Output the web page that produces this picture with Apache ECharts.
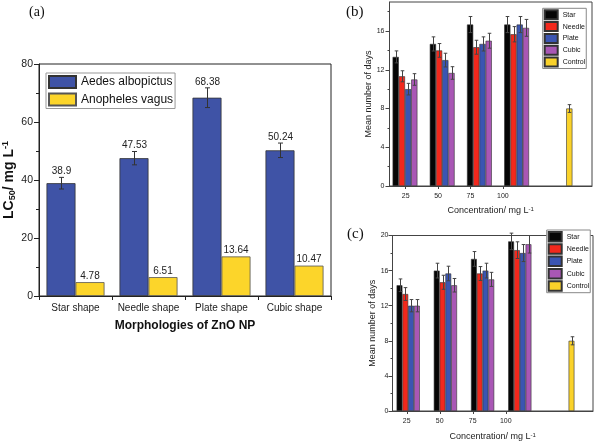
<!DOCTYPE html>
<html><head><meta charset="utf-8">
<script src="https://cdn.jsdelivr.net/npm/echarts@6/dist/echarts.min.js"></script>
<style>html,body{margin:0;padding:0;background:#fff}#c{width:600px;height:443px}</style>
</head><body><div id="c"></div>
<script>
// ---- Panel (a) data ----
const morphCats = ['Star shape', 'Needle shape', 'Plate shape', 'Cubic shape'];
const aedes = [38.9, 47.53, 68.38, 50.24];
const aedesErr = [2.0, 2.3, 3.4, 2.5];
const anopheles = [4.78, 6.51, 13.64, 10.47];

// ---- Panels (b) and (c) data ----
const concCats = ['25', '50', '75', '100', 'Control'];
const concTickValues = [25, 50, 75, 100];
const groupNames = ['Star', 'Needle', 'Plate', 'Cubic', 'Control'];
// (b)
const bStar = [13.33, 14.67, 16.67, 16.67];
const bNeedle = [11.33, 14.0, 14.33, 15.67];
const bPlate = [10.0, 13.0, 14.67, 16.67];
const bCubic = [11.0, 11.67, 15.0, 16.33];
const bControl = 8.0;
const bStarErr = [0.62, 0.73, 0.83, 0.83];
const bNeedleErr = [0.57, 0.71, 0.72, 0.79];
const bPlateErr = [0.6, 0.71, 0.73, 0.83];
const bCubicErr = [0.6, 0.65, 0.77, 0.87];
const bControlErr = 0.4;
const bYTicks = [0, 4, 8, 12, 16];
const bYMinorTicks = [2, 6, 10, 14, 18];
// (c)
const cStar = [14.33, 16.0, 17.33, 19.33];
const cNeedle = [13.33, 14.67, 15.67, 18.33];
const cPlate = [12.0, 15.67, 16.0, 18.0];
const cCubic = [12.0, 14.33, 15.0, 19.0];
const cControl = 8.0;
const cStarErr = [0.72, 0.84, 0.84, 0.94];
const cNeedleErr = [0.73, 0.8, 0.79, 0.95];
const cPlateErr = [0.7, 0.83, 0.84, 0.97];
const cCubicErr = [0.7, 0.77, 0.8, 1.0];
const cControlErr = 0.46;

const colors = {Star: '#050505', Needle: '#F2281C', Plate: '#3B55B2', Cubic: '#A957B5', Control: '#FAD22A'};
const blueA = '#3F53A6', yellowA = '#FCD52A';

const SANS = 'Liberation Sans, Arial, sans-serif';
const SERIF = 'Liberation Serif, Times New Roman, serif';

function errRender(bw, slotCount, capHalf, color, withLabel) {
  return function (params, api) {
    const cat = api.value(0), v = api.value(1), e = api.value(2), slot = api.value(3);
    const off = (slot - (slotCount - 1) / 2) * bw;
    const top = api.coord([cat, v + e]);
    const bot = api.coord([cat, v - e]);
    const x = Math.round(top[0] + off) + 0.5;
    const st = {stroke: color, lineWidth: 1};
    const ch = [
      {type: 'line', shape: {x1: x, y1: top[1], x2: x, y2: bot[1]}, style: st},
      {type: 'line', shape: {x1: x - capHalf, y1: top[1], x2: x + capHalf, y2: top[1]}, style: st},
      {type: 'line', shape: {x1: x - capHalf, y1: bot[1], x2: x + capHalf, y2: bot[1]}, style: st}
    ];
    if (withLabel) {
      ch.push({type: 'text', style: {text: String(v), x: x, y: top[1] - 1, align: 'center', verticalAlign: 'bottom',
        fill: '#222', font: '10px ' + SANS}});
    }
    return {type: 'group', children: ch};
  };
}

function barSeries(name, data, xi, yi, bw) {
  return {type: 'bar', name: name, xAxisIndex: xi, yAxisIndex: yi, data: data, barWidth: bw, barGap: '0%',
    itemStyle: {color: colors[name], borderColor: '#333', borderWidth: 0.6}};
}

function panelSeries(xi, yi, bw, S, N, P, C, ctl, SE, NE, PE, CE, ctlE) {
  const pad = arr => arr.concat(['-']);
  const out = [
    barSeries('Star', pad(S), xi, yi, bw),
    barSeries('Needle', pad(N), xi, yi, bw),
    barSeries('Plate', pad(P), xi, yi, bw),
    barSeries('Cubic', pad(C), xi, yi, bw),
    barSeries('Control', ['-', '-', '-', '-', ctl], xi, yi, bw)
  ];
  const err = [];
  [[S, SE], [N, NE], [P, PE], [C, CE]].forEach((pair, slot) => {
    pair[0].forEach((v, i) => err.push([i, v, pair[1][i], slot]));
  });
  err.push([4, ctl, ctlE, 4]);
  out.push({type: 'custom', name: 'err' + xi, xAxisIndex: xi, yAxisIndex: yi, data: err, z: 5,
    renderItem: errRender(bw, 5, 1.8, '#444', false)});
  return out;
}

const axisColB = '#444';
const xNameStyle = {fontFamily: SANS, fontSize: 9, color: '#222', rich: {sup: {fontSize: 6, verticalAlign: 'top', fontFamily: SANS, color: '#222'}}};
const xAxisB = {type: 'value', gridIndex: 1, min: 12.5, max: 168.75, interval: 12.5, name: 'Concentration/ mg L{sup|-1}',
  nameLocation: 'middle', nameGap: 20, nameTextStyle: xNameStyle,
  axisLine: {show: true, lineStyle: {color: axisColB}},
  axisTick: {show: true, customValues: concTickValues, length: 3, lineStyle: {color: axisColB}},
  axisLabel: {fontFamily: SANS, fontSize: 7, color: '#222', margin: 7, showMaxLabel: false,
    formatter: v => (concTickValues.indexOf(v) >= 0 ? String(v) : '')},
  splitLine: {show: false}};
const xAxisC = {type: 'value', gridIndex: 3, min: 14.2, max: 166.1, name: 'Concentration/ mg L{sup|-1}',
  nameLocation: 'middle', nameGap: 21, nameTextStyle: xNameStyle,
  axisLine: {show: true, lineStyle: {color: axisColB}},
  axisTick: {show: true, customValues: concTickValues, length: 3, lineStyle: {color: axisColB}},
  axisLabel: {customValues: concTickValues, fontFamily: SANS, fontSize: 7, color: '#222', margin: 7},
  splitLine: {show: false}};

function hiddenCatX(gi) {
  return {type: 'category', gridIndex: gi, data: concCats, show: false};
}
function hiddenY(gi, max) {
  return {type: 'value', gridIndex: gi, min: 0, max: max, show: false, splitLine: {show: false}};
}

const chart = echarts.init(document.getElementById('c'), null, {renderer: 'canvas'});
const option = {
  backgroundColor: '#fff',
  animation: false,
  title: [
    {text: '(a)', left: 29, top: 5, padding: 0, textStyle: {fontFamily: SERIF, fontSize: 14, fontWeight: 'normal', color: '#111'}},
    {text: '(b)', left: 346, top: 5, padding: 0, textStyle: {fontFamily: SERIF, fontSize: 15, fontWeight: 'normal', color: '#111'}},
    {text: '(c)', left: 347, top: 227, padding: 0, textStyle: {fontFamily: SERIF, fontSize: 15, fontWeight: 'normal', color: '#111'}}
  ],
  grid: [
    {left: 39, top: 64, width: 292, height: 232, show: true, borderColor: '#222', borderWidth: 1, backgroundColor: 'transparent'},
    {left: 389.5, top: 2, width: 202.5, height: 184, show: true, borderColor: axisColB, borderWidth: 1, backgroundColor: 'transparent'},
    {left: 389.5, top: 2, width: 186, height: 184},
    {left: 392.5, top: 235.5, width: 200.5, height: 175.5, show: true, borderColor: axisColB, borderWidth: 1, backgroundColor: 'transparent'},
    {left: 392.5, top: 235.5, width: 186, height: 175.5}
  ],
  legend: [
    {data: ['Aedes albopictus', 'Anopheles vagus'], orient: 'vertical', left: 46, top: 73, padding: [2, 2, 2, 2],
      itemWidth: 27, itemHeight: 12, itemGap: 3.5, icon: 'rect', borderColor: '#999', borderWidth: 1, backgroundColor: '#fff',
      textStyle: {fontFamily: SANS, fontSize: 12, color: '#111', lineHeight: 12}},
    {data: groupNames, orient: 'vertical', left: 542.7, top: 8.3, padding: [1, 1, 1, 1],
      itemWidth: 13, itemHeight: 9, itemGap: 0.8, icon: 'rect', borderColor: '#888', borderWidth: 1, backgroundColor: '#fff',
      textStyle: {fontFamily: SANS, fontSize: 7, color: '#111', lineHeight: 9}},
    {data: groupNames, orient: 'vertical', left: 546.7, top: 230, padding: [1, 1, 1, 1],
      itemWidth: 13, itemHeight: 9.5, itemGap: 0.8, icon: 'rect', borderColor: '#888', borderWidth: 1, backgroundColor: '#fff',
      textStyle: {fontFamily: SANS, fontSize: 7, color: '#111', lineHeight: 9.5}}
  ],
  xAxis: [
    {type: 'category', gridIndex: 0, data: morphCats, name: 'Morphologies of ZnO NP', nameLocation: 'middle', nameGap: 24,
      nameTextStyle: {fontFamily: SANS, fontSize: 12, fontWeight: 'bold', color: '#111'},
      axisLine: {lineStyle: {color: '#222'}}, axisTick: {show: true, length: 4, lineStyle: {color: '#222'}},
      axisLabel: {interval: 0, fontFamily: SANS, fontSize: 10, color: '#222', margin: 7}},
    xAxisB,
    hiddenCatX(2),
    xAxisC,
    hiddenCatX(4)
  ],
  yAxis: [
    {type: 'value', gridIndex: 0, min: 0, max: 80, interval: 20,
      name: 'LC{sub|50}/ mg L{sup|-1}', nameLocation: 'middle', nameGap: 22,
      nameTextStyle: {fontFamily: SANS, fontSize: 14, fontWeight: 'bold', color: '#111', lineHeight: 16,
        rich: {sub: {fontSize: 9, fontWeight: 'bold', fontFamily: SANS, verticalAlign: 'bottom', lineHeight: 16, color: '#111'},
               sup: {fontSize: 9, fontWeight: 'bold', fontFamily: SANS, verticalAlign: 'top', lineHeight: 16, color: '#111'}}},
      axisLine: {show: true, lineStyle: {color: '#222'}}, axisTick: {show: true, length: 5, lineStyle: {color: '#222'}},
      minorTick: {show: true, splitNumber: 2, length: 3, lineStyle: {color: '#222'}},
      axisLabel: {fontFamily: SANS, fontSize: 10.5, color: '#222', margin: 6}, splitLine: {show: false}},
    {type: 'value', gridIndex: 1, position: 'left', min: 0, max: 19, name: 'Mean number of days', nameLocation: 'middle', nameGap: 13.5,
      nameTextStyle: {fontFamily: SANS, fontSize: 9, color: '#222'},
      axisLine: {show: true, lineStyle: {color: axisColB}},
      axisTick: {show: true, customValues: bYTicks, length: 4, lineStyle: {color: axisColB}},
      axisLabel: {customValues: bYTicks, fontFamily: SANS, fontSize: 7, color: '#222', margin: 5}, splitLine: {show: false}},
    hiddenY(2, 19),
    {type: 'value', gridIndex: 3, min: 0, max: 20, interval: 4, name: 'Mean number of days', nameLocation: 'middle', nameGap: 14,
      nameTextStyle: {fontFamily: SANS, fontSize: 9, color: '#222'},
      axisLine: {show: true, lineStyle: {color: axisColB}},
      axisTick: {show: true, length: 4, lineStyle: {color: axisColB}},
      minorTick: {show: true, splitNumber: 2, length: 2, lineStyle: {color: axisColB}},
      axisLabel: {fontFamily: SANS, fontSize: 7, color: '#222', margin: 4}, splitLine: {show: false}},
    hiddenY(4, 20),
    {type: 'value', gridIndex: 1, position: 'left', offset: 0, min: 0, max: 19, axisLine: {show: false}, axisLabel: {show: false}, splitLine: {show: false},
      axisTick: {show: true, customValues: bYMinorTicks, length: 2, lineStyle: {color: axisColB}}}
  ],
  series: [
    {type: 'bar', name: 'Aedes albopictus', xAxisIndex: 0, yAxisIndex: 0, data: aedes, barWidth: 29, barGap: '0%',
      itemStyle: {color: blueA, borderColor: '#333', borderWidth: 0.8}},
    {type: 'bar', name: 'Anopheles vagus', xAxisIndex: 0, yAxisIndex: 0, data: anopheles, barWidth: 29, barGap: '0%',
      itemStyle: {color: yellowA, borderColor: '#555', borderWidth: 0.8},
      label: {show: true, position: 'top', distance: 1, fontFamily: SANS, fontSize: 10, color: '#222'}},
    {type: 'custom', name: 'errA', xAxisIndex: 0, yAxisIndex: 0, z: 5,
      data: aedes.map((v, i) => [i, v, aedesErr[i], 0]),
      renderItem: errRender(29, 2, 2.5, '#333', true)}
  ].concat(
    panelSeries(2, 2, 6.2, bStar, bNeedle, bPlate, bCubic, bControl, bStarErr, bNeedleErr, bPlateErr, bCubicErr, bControlErr),
    panelSeries(4, 4, 5.8, cStar, cNeedle, cPlate, cCubic, cControl, cStarErr, cNeedleErr, cPlateErr, cCubicErr, cControlErr)
  )
};
chart.setOption(option);
</script>
</body></html>
